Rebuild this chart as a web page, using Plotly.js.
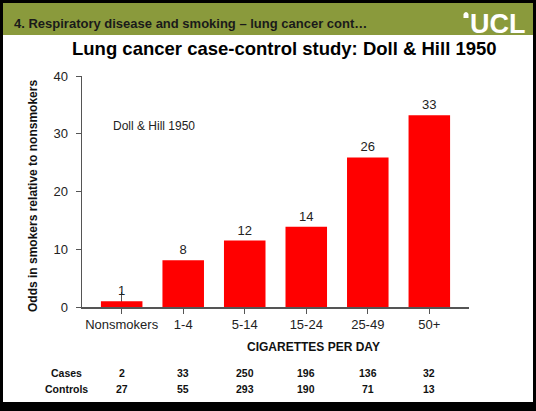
<!DOCTYPE html>
<html>
<head>
<meta charset="utf-8">
<script src="https://cdn.plot.ly/plotly-3.0.1.min.js"></script>
<style>html,body{margin:0;padding:0;background:#fff;}#chart{width:536px;height:411px;}</style>
</head>
<body>
<div id="chart"></div>
<script>
const categories = ['Nonsmokers', '1-4', '5-14', '15-24', '25-49', '50+'];
const oddsRatio = [1, 8.1, 11.5, 13.9, 25.9, 33.2];
const oddsLabels = ['1', '8', '12', '14', '26', '33'];
const cases = [2, 33, 250, 196, 136, 32];
const controls = [27, 55, 293, 190, 71, 13];
const yTicks = [0, 10, 20, 30, 40];

const W = 536, H = 411;
const M = {l: 82, r: 67, t: 76, b: 104};
const PW = W - M.l - M.r, PH = H - M.t - M.b;
const px = x => (x - M.l) / PW;
const py = y => (H - M.b - y) / PH;
const idx = categories.map((c, i) => i);
const xr = [-0.645, categories.length - 1 + 0.645];
const FONT = 'Liberation Sans, Arial, sans-serif';
const AX = '#555555';

const traces = [
  {
    type: 'bar', x: categories, y: oddsRatio, text: oddsLabels,
    textposition: 'outside', cliponaxis: false,
    textfont: {family: FONT, size: 13, color: '#222'},
    marker: {color: '#ff0000'}, hoverinfo: 'skip', showlegend: false
  },
  {
    type: 'scatter', mode: 'markers', x: [0], y: [0], xaxis: 'x2',
    marker: {opacity: 0}, hoverinfo: 'skip', showlegend: false
  }
];

const rect = (x0, y0, x1, y1, color) => ({
  type: 'rect', xref: 'paper', yref: 'paper', layer: 'below',
  x0: px(x0), x1: px(x1), y0: py(y1), y1: py(y0),
  fillcolor: color, line: {width: 0}
});

const shapes = [
  rect(0, 0, W, H, '#000000'),
  rect(3, 3, 533, 402, '#ffffff'),
  rect(3, 3, 533, 35, '#8a9a3c'),
  {
    type: 'path', xref: 'paper', yref: 'paper', layer: 'above',
    path: 'M ' + px(463.5) + ',' + py(18) + ' L ' + px(463.5) + ',' + py(14) +
          ' Q ' + px(466) + ',' + py(10) + ' ' + px(468.5) + ',' + py(14) +
          ' L ' + px(468.5) + ',' + py(18) + ' Z',
    fillcolor: '#ffffff', line: {width: 0}
  }
];

const ann = (text, x, y, opts) => Object.assign({
  text: text, xref: 'paper', yref: 'paper', x: px(x), y: py(y),
  showarrow: false, xanchor: 'center', yanchor: 'middle',
  font: {family: FONT, size: 12, color: '#111'}
}, opts || {});

const annotations = [
  ann('<b>4. Respiratory disease and smoking – lung cancer cont…</b>', 12, 23,
      {xanchor: 'left', font: {family: FONT, size: 13, color: '#1a1a1a'}}),
  ann('<b>UCL</b>', 498, 24, {font: {family: FONT, size: 27, color: '#ffffff'}}),
  ann('<b>Lung cancer case-control study: Doll &amp; Hill 1950</b>', 284, 48,
      {font: {family: FONT, size: 18.5, color: '#000'}}),
  ann('<b>Odds in smokers relative to nonsmokers</b>', 33, 196,
      {textangle: -90, font: {family: FONT, size: 12, color: '#111'}}),
  ann('Doll &amp; Hill 1950', 111, 126,
      {xanchor: 'left', font: {family: FONT, size: 12, color: '#222'}}),
  ann('<b>CIGARETTES PER DAY</b>', 313, 347, {font: {family: FONT, size: 12, color: '#111'}}),
  ann('<b>Cases</b>', 66, 373, {font: {family: FONT, size: 10.5, color: '#111'}}),
  ann('<b>Controls</b>', 66, 389, {font: {family: FONT, size: 10.5, color: '#111'}})
];
categories.forEach((c, i) => {
  annotations.push({text: '<b>' + cases[i] + '</b>', xref: 'x', yref: 'paper', x: c, y: py(373),
    showarrow: false, xanchor: 'center', yanchor: 'middle',
    font: {family: FONT, size: 10.5, color: '#111'}});
  annotations.push({text: '<b>' + controls[i] + '</b>', xref: 'x', yref: 'paper', x: c, y: py(389),
    showarrow: false, xanchor: 'center', yanchor: 'middle',
    font: {family: FONT, size: 10.5, color: '#111'}});
});

const layout = {
  width: W, height: H, margin: M,
  paper_bgcolor: '#ffffff', plot_bgcolor: 'rgba(0,0,0,0)',
  font: {family: FONT, color: '#222'},
  bargap: 0.325,
  showlegend: false,
  xaxis: {
    type: 'category', range: xr, showline: false, showgrid: false, zeroline: false,
    ticks: 'inside', ticklen: 15, tickwidth: 1, tickcolor: AX,
    showticklabels: false, layer: 'below traces', fixedrange: true
  },
  xaxis2: {
    overlaying: 'x', anchor: 'y', side: 'bottom', type: 'linear', range: xr,
    tickmode: 'array', tickvals: idx, ticktext: categories,
    showline: true, linecolor: AX, linewidth: 1.5, showgrid: false, zeroline: false,
    ticks: 'outside', ticklen: 5, tickwidth: 1, tickcolor: AX,
    tickfont: {family: FONT, size: 13, color: '#222'}, fixedrange: true
  },
  yaxis: {
    range: [0, 40], tickmode: 'array', tickvals: yTicks,
    showline: true, linecolor: AX, linewidth: 1.5, showgrid: false, zeroline: false,
    ticks: 'outside', ticklen: 5, tickwidth: 1, tickcolor: AX, ticklabelstandoff: 5,
    tickfont: {family: FONT, size: 13, color: '#222'}, fixedrange: true
  },
  shapes: shapes,
  annotations: annotations
};

Plotly.newPlot('chart', traces, layout, {displayModeBar: false, staticPlot: true});
</script>
</body>
</html>
